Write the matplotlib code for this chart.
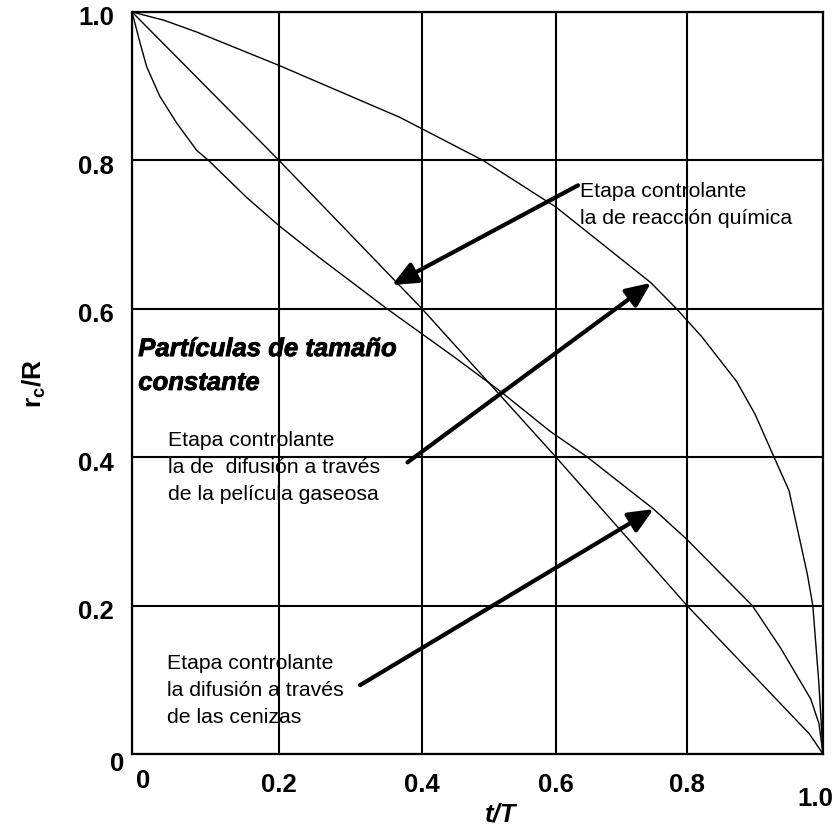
import numpy as np
import matplotlib
matplotlib.use('Agg')
import matplotlib.pyplot as plt
import matplotlib.patheffects as pe
from matplotlib.transforms import ScaledTranslation

plt.rcParams['font.family'] = 'Liberation Sans'
plt.rcParams['mathtext.fontset'] = 'custom'
plt.rcParams['mathtext.rm'] = 'Liberation Sans'
plt.rcParams['mathtext.bf'] = 'Liberation Sans:bold'

# Shrinking core, constant particle size: rc/R against t/T
t_film = [0, 0.043, 0.088, 0.2, 0.369, 0.491, 0.6, 0.745, 0.784, 0.822,
          0.873, 0.90, 0.928, 0.95, 0.977, 0.985, 0.994, 1.0]
rc_film = [1.0, 0.989, 0.973, 0.928, 0.858, 0.8, 0.737, 0.635, 0.6, 0.562,
           0.502, 0.458, 0.4, 0.355, 0.242, 0.2, 0.094, 0.0]

t_reaction = [0, 0.2, 0.4, 0.6, 0.8, 0.98, 1.0]
rc_reaction = [1.0, 0.8, 0.6, 0.4, 0.2, 0.027, 0.0]

t_ash = [0, 0.011, 0.02, 0.038, 0.061, 0.088, 0.104, 0.156, 0.2, 0.255,
         0.351, 0.448, 0.518, 0.591, 0.648, 0.749, 0.8, 0.863, 0.896,
         0.9375, 0.982, 0.994, 1.0]
rc_ash = [1.0, 0.958, 0.926, 0.886, 0.85, 0.8135, 0.8, 0.75, 0.712, 0.67,
          0.6, 0.535, 0.488, 0.435, 0.4, 0.33, 0.289, 0.2305, 0.2,
          0.143, 0.074, 0.041, 0.0]

tick_values = [0, 0.2, 0.4, 0.6, 0.8, 1.0]
tick_labels = ['0', '0.2', '0.4', '0.6', '0.8', '1.0']

label_reaction = 'Etapa controlante\nla de reacción química'
label_film = 'Etapa controlante\nla de  difusión a través\nde la película gaseosa'
label_ash = 'Etapa controlante\nla difusión a través\nde las cenizas'
title_text = 'Partículas de tamaño\nconstante'

# piecewise-linear t/T axis: the grid cells are not all the same width
cell_edges = np.array([0, 0.2127, 0.4197, 0.6136, 0.8032, 1.0])


def fwd(x):
    return np.interp(x, tick_values, cell_edges)


def inv(u):
    return np.interp(u, cell_edges, tick_values)


def shift(dx, dy):
    return ScaledTranslation(dx / 100, dy / 100, fig.dpi_scale_trans)


fig = plt.figure(figsize=(8.32, 8.27), dpi=100)
ax = fig.add_axes([0.1587, 0.0883, 0.8305, 0.8972])
ax.set_xscale('function', functions=(fwd, inv))
ax.set_xlim(0, 1)
ax.set_ylim(0, 1)

ax.plot(t_film, rc_film, color='black', lw=1.0)
ax.plot(t_reaction, rc_reaction, color='black', lw=1.0)
ax.plot(t_ash, rc_ash, color='black', lw=1.0)

ax.set_xticks(tick_values)
ax.set_xticklabels(tick_labels)
ax.set_yticks(tick_values)
ax.set_yticklabels(tick_labels)
ax.grid(True, color='black', lw=1.5)
ax.set_axisbelow(True)
for s in ax.spines.values():
    s.set_linewidth(1.6)
ax.tick_params(length=0, labelsize=18.5, pad=13)
ax.tick_params(axis='x', pad=14)
for lab in ax.get_xticklabels() + ax.get_yticklabels():
    lab.set_fontweight('bold')

# nudge the corner labels a little
xl = ax.get_xticklabels()
yl = ax.get_yticklabels()
xl[0].set_transform(xl[0].get_transform() + shift(11, 4))
xl[-1].set_transform(xl[-1].get_transform() + shift(-8, -14))
yl[0].set_transform(yl[0].get_transform() + shift(10, -8))
for lab in yl[1:]:
    lab.set_transform(lab.get_transform() + shift(0, -4))

ax.set_xlabel('t/T', fontsize=18.5, fontweight='bold', fontstyle='italic')
ax.xaxis.set_label_coords(0.533, -0.066)
ax.set_ylabel(r'r$_\mathbf{c}$/R', fontsize=19, fontweight='bold', labelpad=22)

# baseline of multi-line text sits on the last line
ax.text(0.009, 0.4906, title_text, transform=ax.transAxes, fontsize=18.5,
        fontweight='bold', fontstyle='italic', va='baseline', ha='left', linespacing=1.52,
        path_effects=[pe.withStroke(linewidth=0.6, foreground='black')])
ax.text(0.648, 0.7143, label_reaction, transform=ax.transAxes, fontsize=15.3,
        va='baseline', ha='left', linespacing=1.52)
ax.text(0.0525, 0.3423, label_film, transform=ax.transAxes, fontsize=15.3,
        va='baseline', ha='left', linespacing=1.52)
ax.text(0.05, 0.0418, label_ash, transform=ax.transAxes, fontsize=15.3,
        va='baseline', ha='left', linespacing=1.52)

arrow_kw = dict(arrowstyle='-|>,head_length=0.5,head_width=0.22', color='black', lw=3,
                mutation_scale=30, shrinkA=0, shrinkB=0)
ax.annotate('', xy=(0.358, 0.632), xytext=(0.6336, 0.7664), arrowprops=arrow_kw)
ax.annotate('', xy=(t_film[7], rc_film[7]), xytext=(0.3796, 0.393), arrowprops=arrow_kw)
ax.annotate('', xy=(t_ash[15], rc_ash[15]), xytext=(0.3133, 0.0927), arrowprops=arrow_kw)

fig.savefig('out.png', dpi=100)
